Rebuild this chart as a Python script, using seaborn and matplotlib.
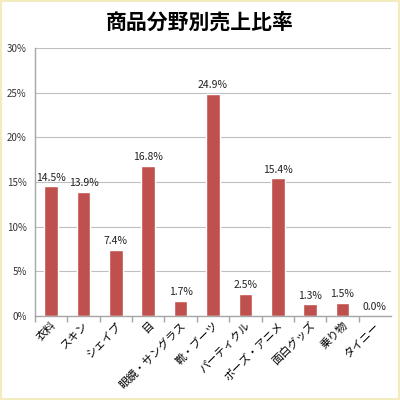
import matplotlib
matplotlib.use("Agg")
import matplotlib.pyplot as plt
import seaborn as sns
import pandas as pd
from matplotlib.patches import Rectangle
from matplotlib.ticker import FuncFormatter, MultipleLocator

categories = ['衣料', 'スキン', 'シェイプ', '目', '眼鏡・サングラス', '靴・ブーツ',
              'パーティクル', 'ポーズ・アニメ', '面白グッズ', '乗り物', 'タイニー']
shares = [14.5, 13.9, 7.4, 16.8, 1.7, 24.9, 2.5, 15.4, 1.3, 1.5, 0.0]
title = '商品分野別売上比率'

sns.set_theme(style="white")
plt.rcParams['font.family'] = ['Noto Sans CJK JP', 'DejaVu Sans']

df = pd.DataFrame({'category': categories, 'share': shares})

fig = plt.figure(figsize=(4, 4), dpi=100)
fig.patch.set_facecolor('white')
fig.patches.append(Rectangle((0.002, 0.002), 0.996, 0.996, transform=fig.transFigure,
                             fill=False, edgecolor='#F4EAC0', linewidth=1.5))
ax = fig.add_axes([0.0875, 0.21, 0.89, 0.67])

sns.barplot(data=df, x='category', y='share', color='#C0504D', width=0.42,
            saturation=1, ax=ax)

ax.set_ylim(0, 30)
ax.set_xlim(-0.5, len(categories) - 0.5)
ax.yaxis.set_major_locator(MultipleLocator(5))
ax.yaxis.set_major_formatter(FuncFormatter(lambda v, p: f'{v:.0f}%'))
ax.grid(axis='y', color='#BFBFBF', linewidth=0.8)
ax.set_axisbelow(True)
ax.set_xlabel('')
ax.set_ylabel('')

for s in ['top', 'right']:
    ax.spines[s].set_visible(False)
for s in ['left', 'bottom']:
    ax.spines[s].set_color('#A6A6A6')
    ax.spines[s].set_linewidth(1.0)

ax.tick_params(axis='y', labelsize=7, colors='#333333', length=0, pad=6)
# category boundary ticks
ax.set_xticks([i + 0.5 for i in range(len(categories) - 1)] + [-0.5], minor=True)
ax.tick_params(axis='x', which='minor', length=4, color='#A6A6A6', bottom=True)
ax.tick_params(axis='x', which='major', length=0, labelsize=8, pad=3)
ax.set_xticks(range(len(categories)))
ax.set_xticklabels(categories, rotation=45, ha='right', rotation_mode='anchor',
                   color='black')

for i, v in enumerate(shares):
    ax.text(i, v + 0.4, f'{v:.1f}%', ha='center', va='bottom', fontsize=7.5,
            color='#222222')

fig.text(0.5, 0.945, title, ha='center', va='center', fontsize=15,
         fontweight='bold', color='black')

fig.savefig('out.png', dpi=100)
